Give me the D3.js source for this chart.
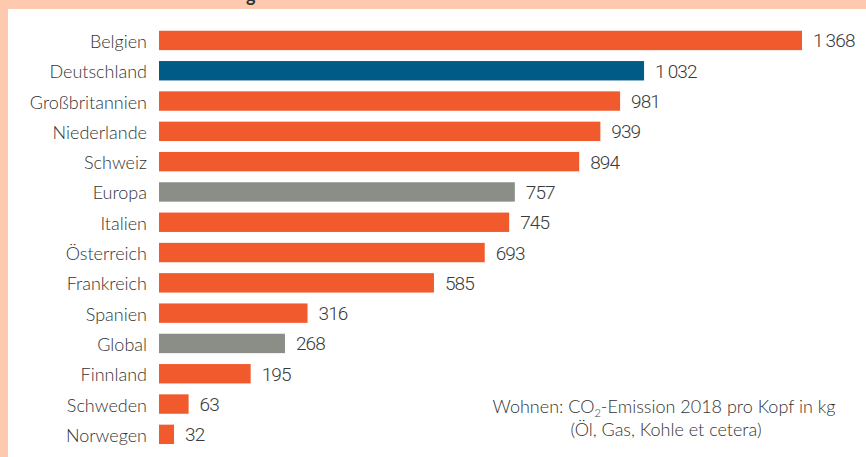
<!DOCTYPE html>
<html>
<head>
<meta charset="utf-8">
<script src="https://cdn.jsdelivr.net/npm/d3@7"></script>
<style>
  body { margin: 0; background: #fff; }
  svg { display: block; }
  .cat { font-family: Lato, "Open Sans", sans-serif; font-size: 18px; font-weight: 300; fill: #333; }
  .val { font-family: Roboto, sans-serif; font-size: 19px; font-weight: 300; letter-spacing: -0.9px; fill: #3a3a3a; }
  .note { font-family: Lato, "Open Sans", sans-serif; font-size: 18px; font-weight: 300; fill: #333; }
</style>
</head>
<body>
<svg id="chart"></svg>
<script>
// data
var countries = ["Belgien", "Deutschland", "Großbritannien", "Niederlande", "Schweiz", "Europa",
  "Italien", "Österreich", "Frankreich", "Spanien", "Global", "Finnland", "Schweden", "Norwegen"]
var emissions = [1368, 1032, 981, 939, 894, 757, 745, 693, 585, 316, 268, 195, 63, 32]
var kinds = ["land", "de", "land", "land", "land", "agg", "land", "land", "land", "land", "agg", "land", "land", "land"]

var screen = {width: 866, height: 457}
var colorScale = d3.scaleOrdinal()
  .domain(["land", "de", "agg"])
  .range(["#f15a2c", "#005b86", "#8a8e87"])

var rows = countries.map(function(c, i) {
  return {name: c, value: emissions[i], kind: kinds[i]}
})

var svg = d3.select("#chart")
  .attr("width", screen.width)
  .attr("height", screen.height)

// peach frame (top and left)
svg.append("rect").attr("x", 0).attr("y", 0).attr("width", screen.width).attr("height", 9).attr("fill", "#fdcab0")
svg.append("rect").attr("x", 0).attr("y", 0).attr("width", 8).attr("height", screen.height).attr("fill", "#fdcab0")
// cut off title: only the descender is visible
svg.append("text").attr("class", "cat").attr("x", 246).attr("y", 2).style("font-weight", 700).text("g")

var xScale = d3.scaleLinear()
  .domain([0, 1368])
  .range([159, 802])

var yScale = d3.scaleBand()
  .domain(countries)
  .range([25.3, 449.5])
  .paddingInner(0.36)
  .paddingOuter(0.18)

var bars = svg.append("g").selectAll("rect")
  .data(rows)
  .enter()
  .append("rect")
  .attr("x", xScale(0))
  .attr("y", function(d) { return yScale(d.name) })
  .attr("width", function(d) { return xScale(d.value) - xScale(0) })
  .attr("height", yScale.bandwidth())
  .attr("fill", function(d) { return colorScale(d.kind) })

var fmt = function(v) {
  return v >= 1000 ? Math.floor(v / 1000) + "\u2009" + d3.format("03d")(v % 1000) : String(v)
}

svg.append("g").selectAll("text")
  .data(rows)
  .enter()
  .append("text")
  .attr("class", "cat")
  .attr("text-anchor", "end")
  .attr("x", 147)
  .attr("y", function(d) { return yScale(d.name) + yScale.bandwidth() / 2 + 7.5 })
  .text(function(d) { return d.name })

svg.append("g").selectAll("text")
  .data(rows)
  .enter()
  .append("text")
  .attr("class", "val")
  .attr("x", function(d) { return xScale(d.value) + 11 })
  .attr("y", function(d) { return yScale(d.name) + yScale.bandwidth() / 2 + 7 })
  .text(function(d) { return fmt(d.value) })

// caption
var note = svg.append("g")
var line1 = note.append("text").attr("class", "note").attr("text-anchor", "middle").attr("x", 664).attr("y", 413)
line1.append("tspan").text("Wohnen: CO")
line1.append("tspan").attr("font-size", "11px").attr("dy", 4).text("2")
line1.append("tspan").attr("dy", -4).text("-Emission 2018 pro Kopf in kg")
note.append("text").attr("class", "note").attr("text-anchor", "middle").attr("x", 666).attr("y", 436)
  .text("(Öl, Gas, Kohle et cetera)")
</script>
</body>
</html>
